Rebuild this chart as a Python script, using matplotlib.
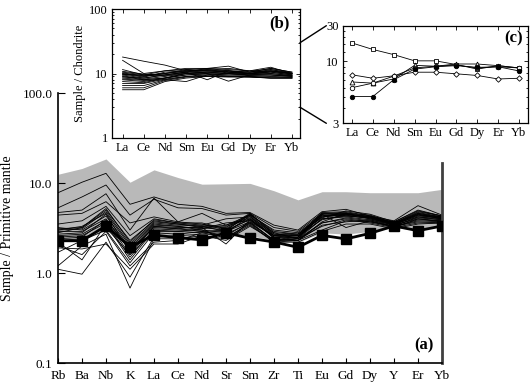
import matplotlib
matplotlib.use("Agg")
import matplotlib.pyplot as plt
from matplotlib.patches import ConnectionPatch
from matplotlib.ticker import LogLocator, NullFormatter, FixedLocator, FixedFormatter, NullLocator

plt.rcParams['font.family'] = ['Liberation Serif', 'DejaVu Serif']

# ---------------- data ----------------
elements = ["Rb", "Ba", "Nb", "K", "La", "Ce", "Nd", "Sr", "Sm", "Zr", "Ti",
            "Eu", "Gd", "Dy", "Y", "Er", "Yb"]
ree = ["La", "Ce", "Nd", "Sm", "Eu", "Gd", "Dy", "Er", "Yb"]

# grey field (envelope)
field_upper = [12.5, 14.5, 18.5, 10.2, 14.0, 11.5, 9.7, 9.8, 9.9, 8.2, 6.5, 8.0, 8.0, 7.8, 7.8, 7.8, 8.5]
field_lower = [2.3, 2.3, 3.0, 1.9, 2.5, 2.5, 2.5, 2.7, 2.6, 2.3, 2.2, 2.8, 2.7, 2.9, 3.2, 3.0, 3.3]

# reference pattern (thick line with squares)
reference = [2.28, 2.28, 3.35, 1.95, 2.64, 2.47, 2.33, 2.8, 2.43, 2.21, 1.93, 2.62, 2.39, 2.76, 3.33, 2.95, 3.33]

# sample patterns (primitive-mantle normalised)
s01 = [7.8, 10.2, 12.8, 5.8, 7.0, 5.8, 5.5, 4.6, 4.7, 3.4, 3.0, 4.8, 5.1, 4.3, 3.8, 5.6, 4.4]
s02 = [5.3, 7.0, 9.5, 4.4, 6.6, 5.3, 5.2, 4.4, 4.6, 3.2, 2.9, 4.6, 4.7, 4.2, 3.7, 5.0, 4.3]
s03 = [4.7, 5.0, 7.6, 3.0, 6.8, 3.7, 3.5, 3.0, 4.5, 2.9, 2.7, 4.5, 4.6, 4.1, 3.6, 4.7, 4.2]
s04 = [4.4, 4.6, 6.2, 3.6, 4.2, 3.7, 4.6, 3.4, 4.4, 3.0, 2.8, 4.4, 4.5, 4.2, 3.6, 4.6, 4.1]
s05 = [3.5, 3.8, 5.5, 2.6, 4.0, 3.6, 3.4, 4.0, 4.2, 2.8, 2.7, 4.2, 4.4, 4.0, 3.5, 4.5, 4.0]
s06 = [3.1, 3.2, 5.0, 2.3, 3.8, 3.5, 3.3, 3.2, 4.6, 2.7, 2.6, 4.7, 4.8, 4.3, 3.6, 4.4, 4.2]
s07 = [3.0, 3.1, 4.8, 2.1, 3.7, 3.5, 3.2, 3.0, 4.4, 2.6, 2.5, 4.6, 4.5, 4.2, 3.5, 4.3, 4.1]
s08 = [3.0, 3.3, 4.6, 2.0, 3.6, 3.4, 3.4, 3.3, 4.0, 2.5, 2.5, 4.4, 4.3, 4.1, 3.5, 4.2, 4.0]
s09 = [3.2, 3.0, 4.3, 1.9, 3.5, 3.3, 3.1, 3.6, 3.8, 2.6, 2.4, 4.0, 4.2, 3.9, 3.4, 4.1, 3.9]
s10 = [2.9, 2.9, 4.0, 1.8, 3.4, 3.3, 3.0, 2.8, 4.3, 2.4, 2.3, 3.7, 4.6, 4.0, 3.4, 4.0, 3.8]
s11 = [2.8, 3.2, 5.2, 2.2, 3.9, 3.6, 3.6, 3.1, 4.5, 2.8, 2.4, 4.5, 3.2, 3.8, 3.3, 3.8, 3.7]
s12 = [2.7, 2.8, 4.5, 1.7, 3.3, 3.2, 3.2, 2.1, 3.9, 2.5, 2.3, 3.6, 4.0, 3.7, 3.3, 3.7, 3.6]
s13 = [2.6, 2.7, 3.8, 1.6, 3.3, 3.1, 2.9, 2.6, 3.7, 2.3, 2.4, 3.3, 3.9, 3.6, 3.2, 3.6, 3.6]
s14 = [2.5, 2.6, 3.6, 1.5, 3.1, 3.0, 3.0, 2.4, 3.6, 2.3, 2.3, 3.0, 3.8, 3.7, 3.3, 3.9, 3.8]
s15 = [2.2, 1.4, 3.5, 1.4, 3.0, 2.9, 2.8, 2.5, 3.5, 2.2, 2.2, 2.9, 3.5, 3.5, 3.1, 3.5, 3.6]
s16 = [1.1, 0.97, 2.2, 0.9, 2.5, 2.6, 2.7, 2.7, 3.6, 2.3, 2.4, 3.6, 4.1, 3.8, 3.2, 4.0, 3.7]
s17 = [1.2, 2.0, 2.7, 0.68, 2.4, 2.4, 2.6, 2.4, 3.4, 2.2, 2.3, 3.4, 3.7, 3.9, 3.3, 4.2, 3.9]
s18 = [1.9, 1.85, 2.1, 1.1, 2.1, 2.1, 2.6, 2.3, 3.3, 2.3, 2.5, 4.0, 4.3, 4.1, 3.4, 4.4, 4.0]
s19 = [2.0, 1.6, 2.9, 1.2, 2.2, 2.3, 2.8, 2.9, 3.7, 2.6, 2.6, 4.2, 4.5, 4.2, 3.5, 4.6, 4.2]
s20 = [1.7, 2.3, 3.0, 1.3, 2.8, 2.7, 2.9, 3.0, 3.9, 2.5, 2.5, 4.3, 4.6, 4.4, 3.6, 4.8, 4.3]
s21 = [2.3, 2.4, 3.2, 1.6, 2.9, 2.9, 3.1, 3.4, 4.1, 2.7, 2.6, 3.9, 4.4, 4.3, 3.5, 4.5, 4.1]
s22 = [2.4, 2.5, 3.9, 1.8, 3.2, 3.1, 3.3, 2.9, 4.0, 2.6, 2.7, 4.1, 4.9, 4.5, 3.7, 4.9, 4.3]
samples = [s01, s02, s03, s04, s05, s06, s07, s08, s09, s10, s11,
           s12, s13, s14, s15, s16, s17, s18, s19, s20, s21, s22]

# chondrite-normalised REE (inset b)
b01 = [18, 15.5, 13.5, 11, 11, 10.5, 10.5, 11, 10]
b02 = [16, 10, 11, 11.5, 12, 11, 10.5, 12, 10.5]
b03 = [11.5, 9.5, 10, 11, 11.5, 12, 11, 12.5, 10]
b04 = [10.8, 9.8, 9.5, 10.5, 12, 13, 10.5, 12, 10.5]
b05 = [10.5, 9.5, 11, 12, 12, 11.5, 11, 11.5, 10]
b06 = [10, 9.0, 10, 11.5, 11, 11, 10.5, 11, 10]
b07 = [9.8, 8.8, 10.5, 11, 11.5, 10.5, 10, 11, 9.8]
b08 = [9.5, 8.5, 9.5, 10.5, 8.0, 11, 10, 10.5, 9.5]
b09 = [9.2, 8.2, 9, 10, 10.5, 10, 10, 10.5, 9.5]
b10 = [9, 8, 8.5, 10, 10, 7.6, 9.5, 10, 9.3]
b11 = [8.8, 8.5, 9.5, 10.5, 11, 10.5, 10, 10, 9.2]
b12 = [8.5, 8, 8.5, 10, 10.5, 10, 9.5, 9.5, 9]
b13 = [8.2, 7.8, 8, 7.5, 9.5, 9.8, 9.5, 9.5, 9]
b14 = [8, 7.5, 8.5, 9.5, 10, 10, 9.5, 9.5, 9.2]
b15 = [7.5, 7.2, 8.5, 9.5, 9.8, 9.5, 9.3, 9, 8.8]
b16 = [7, 7, 8.2, 9, 9.5, 9.2, 9, 8.8, 8.7]
b17 = [6.5, 6.5, 8, 9, 9.2, 9, 9, 8.5, 8.5]
b18 = [6, 6, 7.8, 8.8, 9, 9, 8.8, 8.5, 8.5]
b19 = [5.6, 5.6, 7.5, 8.5, 9, 8.8, 8.8, 8.5, 8.5]
b20 = [10.2, 9.2, 10, 10.8, 11, 11, 10, 11.5, 10.2]
b21 = [9.7, 9.4, 9.2, 10.2, 10.5, 10.5, 9.8, 10.8, 9.8]
ree_samples = [b01, b02, b03, b04, b05, b06, b07, b08, b09, b10, b11,
               b12, b13, b14, b15, b16, b17, b18, b19, b20, b21]

# inset c patterns
c_square = [14.3, 12.6, 11.4, 10.1, 10.1, 9.4, 8.6, 9.2, 8.8]
c_diamond = [7.7, 7.2, 7.55, 8.1, 8.1, 7.85, 7.6, 7.1, 7.2]
c_triangle = [6.7, 6.55, 7.1, 9.25, 9.1, 9.5, 9.5, 9.2, 8.8]
c_circle = [6.0, 6.55, 7.5, 8.8, 9.1, 9.3, 8.8, 9.0, 8.8]
c_filled = [5.05, 5.05, 7.0, 8.6, 9.0, 9.2, 8.9, 9.0, 8.3]

# ---------------- figure ----------------
fig = plt.figure(figsize=(5.3, 3.85), dpi=100)

ax = fig.add_axes([58/530, 22/385, 384/530, 270/385])
x = list(range(len(elements)))
ax.fill_between(x, field_lower, field_upper, color='#b9b9b9', lw=0, zorder=1)
for s in samples:
    ax.plot(x, s, color='black', lw=0.6, zorder=2)
ax.plot(x, reference, color='black', lw=2.0, marker='s', markersize=6.5, zorder=3)
ax.set_yscale('log')
ax.set_ylim(0.1, 100)
ax.set_xlim(0, len(elements) - 1)
ax.set_xticks(x)
ax.set_xticklabels(elements, fontsize=9.5)
ax.yaxis.set_major_locator(FixedLocator([0.1, 1, 10, 100]))
ax.yaxis.set_major_formatter(FixedFormatter(["0.1", "1.0", "10.0", "100.0"]))
ax.yaxis.set_minor_locator(NullLocator())
ax.tick_params(axis='both', direction='in', labelsize=9.5, width=0.8)
ax.tick_params(axis='y', length=5, pad=4)
ax.tick_params(axis='x', length=3.5, pad=5, top=False)
ax.spines['top'].set_visible(False)
ax.spines['right'].set_bounds(0.1, 16.7)
ax.spines['right'].set_color('#404040')
ax.spines['right'].set_linewidth(2.0)
ax.spines['left'].set_linewidth(1.2)
ax.spines['bottom'].set_linewidth(1.2)
ax.set_ylabel("Sample / Primitive mantle", fontsize=10, labelpad=6)
ax.text(0.977, 0.067, "(a)", transform=ax.transAxes, ha='right', va='center',
        fontsize=12, fontweight='bold')

# inset b
axb = fig.add_axes([112/530, (385-138)/385, 188/530, 129/385])
xr = list(range(len(ree)))
for s in ree_samples:
    axb.plot(xr, s, color='black', lw=0.6)
axb.set_yscale('log')
axb.set_ylim(1, 100)
axb.set_xlim(-0.5, len(ree) - 1 + 0.38)
axb.set_xticks(xr)
axb.set_xticklabels(ree, fontsize=9)
axb.yaxis.set_major_locator(FixedLocator([1, 10, 100]))
axb.yaxis.set_major_formatter(FixedFormatter(["1", "10", "100"]))
axb.yaxis.set_minor_locator(LogLocator(base=10, subs=range(2, 10)))
axb.yaxis.set_minor_formatter(NullFormatter())
axb.tick_params(which='both', direction='in', top=True, right=True, labelsize=9, width=0.6)
axb.tick_params(which='major', length=3, pad=3)
axb.tick_params(which='minor', length=1.5)
for sp in axb.spines.values():
    sp.set_linewidth(0.9)
axb.set_ylabel("Sample / Chondrite", fontsize=9, labelpad=2)
axb.text(0.947, 0.89, "(b)", transform=axb.transAxes, ha='right', va='center',
         fontsize=12, fontweight='bold')

# inset c
axc = fig.add_axes([343/530, (385-123.3)/385, 185/530, 97.6/385])
axc.plot(xr, c_square, color='black', lw=0.6, marker='s', ms=3.5, mfc='white', mec='black', mew=0.6)
axc.plot(xr, c_diamond, color='black', lw=0.6, marker='D', ms=2.8, mfc='white', mec='black', mew=0.6)
axc.plot(xr, c_triangle, color='black', lw=0.6, marker='^', ms=3.5, mfc='white', mec='black', mew=0.6)
axc.plot(xr, c_circle, color='black', lw=0.6, marker='o', ms=3.2, mfc='white', mec='black', mew=0.6)
axc.plot(xr, c_filled, color='black', lw=0.6, marker='o', ms=3.2, mfc='black', mec='black', mew=0.6)
axc.set_yscale('log')
axc.set_ylim(3, 20)
axc.set_xlim(-0.43, len(ree) - 1 + 0.43)
axc.set_xticks(xr)
axc.set_xticklabels(ree, fontsize=9)
axc.yaxis.set_major_locator(FixedLocator([3, 10, 20]))
axc.yaxis.set_major_formatter(FixedFormatter(["3", "10", "30"]))
axc.yaxis.set_minor_locator(FixedLocator([4, 5, 6, 7, 8, 9, 12, 14, 16, 18]))
axc.yaxis.set_minor_formatter(NullFormatter())
axc.tick_params(which='both', direction='in', top=True, right=True, labelsize=9, width=0.6)
axc.tick_params(which='major', length=3, pad=3)
axc.tick_params(which='minor', length=1.5)
for sp in axc.spines.values():
    sp.set_linewidth(0.9)
axc.text(0.97, 0.874, "(c)", transform=axc.transAxes, ha='right', va='center',
         fontsize=12, fontweight='bold')

# connecting lines between inset b and inset c
for yb_val, yc_val in [(30, 20), (3, 3)]:
    con = ConnectionPatch(xyA=(1.0, yb_val), coordsA=axb.get_yaxis_transform(),
                          xyB=(-0.09, yc_val), coordsB=axc.get_yaxis_transform(),
                          color='black', lw=1.0)
    fig.add_artist(con)

fig.savefig("out.png", dpi=100)
